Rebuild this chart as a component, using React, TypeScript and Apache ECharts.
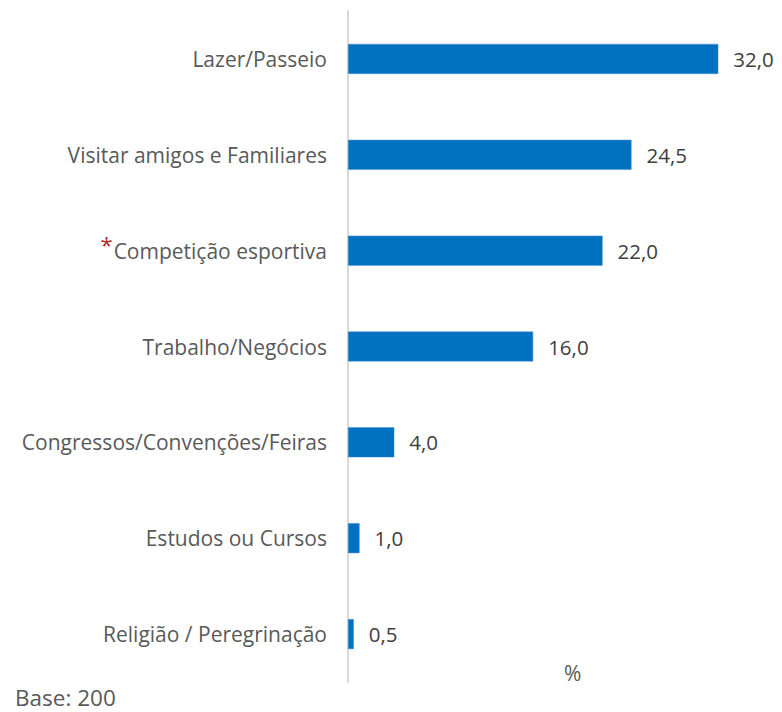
import React, { useEffect, useRef } from "react";
import * as echarts from "echarts";

const categories = [
  "Lazer/Passeio",
  "Visitar amigos e Familiares",
  "Competição esportiva",
  "Trabalho/Negócios",
  "Congressos/Convenções/Feiras",
  "Estudos ou Cursos",
  "Religião / Peregrinação",
];
const values = [32.0, 24.5, 22.0, 16.0, 4.0, 1.0, 0.5];
const starred = ["Competição esportiva"];
const unitLabel = "%";
const baseNote = "Base: 200";

const FONT = "Open Sans";

export default function App() {
  const ref = useRef<HTMLDivElement>(null);
  useEffect(() => {
    if (!ref.current) return;
    const chart = echarts.init(ref.current, null, { renderer: "svg" });
    chart.setOption({
      animation: false,
      backgroundColor: "#ffffff",
      grid: { left: 348, right: 29, top: 11, bottom: 30, containLabel: false },
      xAxis: {
        type: "value",
        min: 0,
        max: 35,
        show: false,
      },
      yAxis: {
        type: "category",
        data: categories,
        inverse: true,
        axisLine: { show: true, lineStyle: { color: "#d9d9d9", width: 2 } },
        axisTick: { show: false },
        axisLabel: {
          margin: 21,
          color: "#595959",
          fontFamily: FONT,
          fontSize: 21,
          formatter: (v: string) => (starred.includes(v) ? `{ast|*}${v}` : v),
          rich: {
            ast: {
              color: "#b22a2a",
              fontSize: 22,
              fontFamily: FONT,
              padding: [0, 1, 14, 0],
            },
          },
        },
      },
      series: [
        {
          type: "bar",
          data: values,
          barWidth: 30,
          itemStyle: { color: "#0070c0", borderColor: "#4a90d0", borderWidth: 0.5 },
          label: {
            show: true,
            position: "right",
            distance: 15,
            color: "#404040",
            fontFamily: FONT,
            fontSize: 20.5,
            formatter: (p: any) => p.value.toFixed(1).replace(".", ","),
          },
        },
      ],
      graphic: [
        {
          type: "text",
          left: 564,
          top: 662,
          style: { text: unitLabel, fill: "#595959", font: `21px "${FONT}"` },
        },
        {
          type: "text",
          left: 15,
          top: 686,
          style: { text: baseNote, fill: "#595959", font: `22.5px "${FONT}"` },
        },
      ],
    });
    return () => chart.dispose();
  }, []);
  return (
    <div
      ref={ref}
      style={{ position: "fixed", left: 0, top: 0, width: 782, height: 712 }}
    />
  );
}
